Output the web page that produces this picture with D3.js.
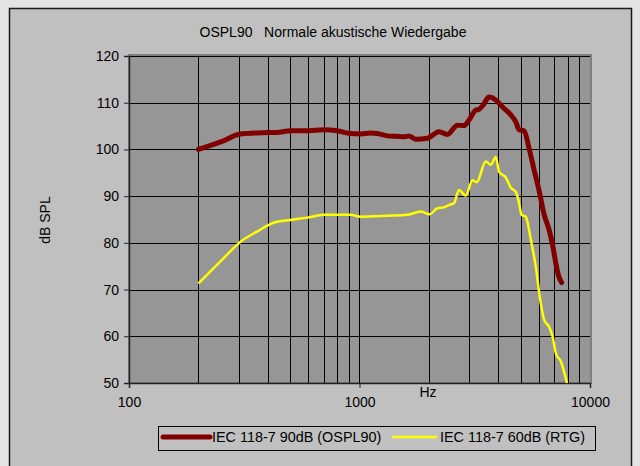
<!DOCTYPE html>
<html><head><meta charset="utf-8">
<script src="https://cdn.jsdelivr.net/npm/d3@7"></script>
<style>
html,body{margin:0;padding:0;background:#e3e3e3;}
svg{display:block;}
text{font-family:Arial,"Liberation Sans",sans-serif;fill:#000;}
</style></head>
<body>
<svg id="chart" width="640" height="466"></svg>
<script>
const title = "OSPL90   Normale akustische Wiedergabe";
const yLabel = "dB SPL";
const xLabel = "Hz";
const xTicks = [100, 1000, 10000];
const yTicks = [50, 60, 70, 80, 90, 100, 110, 120];
const xGrid = [200,300,400,500,600,700,800,900,1000,2000,3000,4000,5000,6000,7000,8000,9000];

const seriesNames = ["IEC 118-7 90dB (OSPL90)", "IEC 118-7 60dB (RTG)"];

const osplFreq = [200,250,304,350,401,450,501,600,700,800,914,1010,1117,1194,1320,1450,1559,1638,1752,1969,2213,2406,2660,2842,2987,3193,3300,3450,3648,3900,4172,4535,4766,4928,5179,5444,5722,6024,6330,6653,6886,7115,7300,7530];
const osplVals = [100.0,101.6,103.3,103.5,103.6,103.7,104.0,104.0,104.2,104.0,103.4,103.3,103.5,103.4,102.9,102.8,102.7,102.9,102.2,102.4,103.8,103.2,105.2,105.1,106.3,108.4,108.6,109.6,111.2,110.6,109.1,107.4,105.9,104.2,104.0,100.2,95.6,91.0,86.0,82.7,79.5,75.5,73.0,71.5];

const rtgFreq = [200,257,304,359,424,501,593,700,914,1010,1320,1613,1842,2014,2177,2326,2445,2571,2702,2890,3091,3227,3530,3713,3900,4034,4313,4535,4766,4900,5050,5265,5540,5822,6081,6330,6653,6886,7115,7477,7943];
const rtgVals = [71.3,76.7,80.2,82.4,84.3,84.9,85.4,86.0,86.0,85.6,85.8,86.0,86.7,86.1,87.4,87.6,88.1,88.5,91.3,90.1,93.4,93.0,97.4,96.7,98.4,95.2,94.0,91.8,90.9,89.0,86.0,85.6,80.6,74.8,67.8,63.5,62.0,59.9,56.3,54.6,50.0];

const svg = d3.select("#chart");
// chart area
svg.append("rect").attr("x",9.5).attr("y",8.5).attr("width",622).attr("height",470)
  .attr("fill","#c0c0c0").attr("stroke","#1a1a1a").attr("stroke-width",1.5);

const L=129, R=590, T=56, B=383;
const x = d3.scaleLog().domain([100,10000]).range([L,R]);
const y = d3.scaleLinear().domain([50,120]).range([B,T]);

// plot area
svg.append("rect").attr("x",L).attr("y",T-1).attr("width",R-L+1).attr("height",B-T+1)
  .attr("fill","#969696").attr("stroke","#808080").attr("stroke-width",2);

const px = v => Math.round(v)+0.5;
// gridlines
svg.append("g").selectAll("line").data(xGrid).join("line")
  .attr("x1",d=>px(x(d))).attr("x2",d=>px(x(d))).attr("y1",T).attr("y2",B)
  .attr("stroke","#000").attr("stroke-width",1);
svg.append("g").selectAll("line").data(yTicks.filter(d=>d>50)).join("line")
  .attr("x1",L).attr("x2",R).attr("y1",d=>px(y(d))).attr("y2",d=>px(y(d)))
  .attr("stroke","#000").attr("stroke-width",1);

// axes
const yAxis = d3.axisLeft(y).tickValues(yTicks).tickSize(5).tickPadding(5).tickFormat(d3.format("d"));
const gy = svg.append("g").attr("transform",`translate(${L},0)`).call(yAxis);
const xAxis = d3.axisBottom(x).tickValues(xTicks).tickSize(5).tickPadding(9).tickFormat(d3.format("d"));
const gx = svg.append("g").attr("transform",`translate(0,${B})`).call(xAxis);
[gx,gy].forEach(g=>{
  g.selectAll("path.domain").attr("stroke","#222").attr("stroke-width",1.5);
  g.selectAll(".tick line").attr("stroke","#222");
  g.selectAll("text").style("font-family","Arial, 'Liberation Sans', sans-serif").style("font-size","14px").attr("fill","#000");
});

// lines
const line = d3.line().curve(d3.curveMonotoneX);
svg.append("path")
  .attr("d", line(osplFreq.map((f,i)=>[x(f), y(osplVals[i])])))
  .attr("fill","none").attr("stroke","#800000").attr("stroke-width",5).attr("stroke-linejoin","round").attr("stroke-linecap","round");
svg.append("path")
  .attr("d", line(rtgFreq.map((f,i)=>[x(f), y(rtgVals[i])])))
  .attr("fill","none").attr("stroke","#ffff00").attr("stroke-width",2.5).attr("stroke-linejoin","round");

// title and labels
svg.append("text").attr("x",333).attr("y",37).attr("text-anchor","middle")
  .style("font-size","14px").style("white-space","pre").attr("xml:space","preserve").text(title);
svg.append("text").attr("transform","translate(50,220) rotate(-90)").attr("text-anchor","middle").style("font-size","14px").text(yLabel);
svg.append("text").attr("x",428).attr("y",397).attr("text-anchor","middle").style("font-size","14px").text(xLabel);

// legend
const lg = svg.append("g");
lg.append("rect").attr("x",158.5).attr("y",426.5).attr("width",437).attr("height",24)
  .attr("fill","none").attr("stroke","#000").attr("stroke-width",1);
const legendItems = [
  {name: seriesNames[0], color:"#800000", w:5, x1:163, x2:210, tx:212},
  {name: seriesNames[1], color:"#ffff00", w:2.5, x1:392, x2:437, tx:440}
];
legendItems.forEach(it=>{
  lg.append("line").attr("x1",it.x1).attr("x2",it.x2).attr("y1",437).attr("y2",437)
    .attr("stroke",it.color).attr("stroke-width",it.w).attr("stroke-linecap", it.w>3?"round":"butt");
  lg.append("text").attr("x",it.tx).attr("y",442).style("font-size","14.4px").text(it.name);
});
</script>
</body></html>
